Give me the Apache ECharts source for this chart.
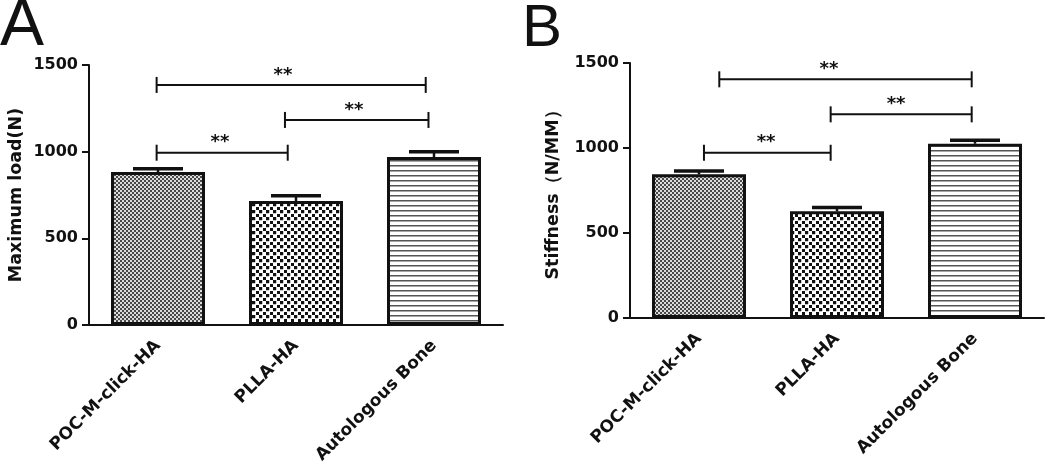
<!DOCTYPE html>
<html>
<head>
<meta charset="utf-8">
<script src="https://cdn.jsdelivr.net/npm/echarts@6/dist/echarts.min.js"></script>
<style>
html,body{margin:0;padding:0;background:#fff;}
#chart{width:1050px;height:469px;}
</style>
</head>
<body>
<div id="chart"></div>
<script>
// ---------- data ----------
const categories = ['POC-M-click-HA', 'PLLA-HA', 'Autologous Bone'];
const loadMeans = [882, 715, 969];
const loadErrs = [20, 31, 31];
const stiffMeans = [845, 628, 1025];
const stiffErrs = [20, 22, 20];
const yTicks = [0, 500, 1000, 1500];
// significance brackets: [fromX, toX, yValue, starX] (x in category units)
const loadBrackets = [[-0.01, 0.94, 994, 0.449], [0.92, 1.96, 1183, 1.42], [-0.01, 1.94, 1385, 0.906]];
const stiffBrackets = [[0.036, 0.954, 972, 0.486], [0.954, 1.976, 1198, 1.428], [0.147, 1.976, 1404, 0.942]];
const sigLabel = '**';
const yNameA = 'Maximum load(N)';
const yNameB = 'Stiffness（N/MM）';

// ---------- patterns ----------
function makeCanvas(w, h, draw) {
  const c = document.createElement('canvas');
  c.width = w; c.height = h;
  const ctx = c.getContext('2d');
  draw(ctx);
  return c;
}
const fineChecker = makeCanvas(4, 4, ctx => {
  ctx.fillStyle = '#dcdcdc'; ctx.fillRect(0, 0, 4, 4);
  ctx.fillStyle = '#4a4a4a'; ctx.fillRect(0, 0, 2, 2); ctx.fillRect(2, 2, 2, 2);
});
const coarseChecker = makeCanvas(7, 7, ctx => {
  ctx.fillStyle = '#ffffff'; ctx.fillRect(0, 0, 7, 7);
  ctx.fillStyle = '#111111'; ctx.fillRect(0, 0, 3, 3); ctx.fillRect(4, 4, 3, 3);
  ctx.fillStyle = '#888888'; ctx.fillRect(3, 0, 0.5, 3); ctx.fillRect(0, 3, 3, 0.5);
});
const stripes = makeCanvas(4, 5, ctx => {
  ctx.fillStyle = '#ffffff'; ctx.fillRect(0, 0, 4, 5);
  ctx.fillStyle = '#555555'; ctx.fillRect(0, 0, 4, 1);
  ctx.fillStyle = '#a8a8a8'; ctx.fillRect(0, 1, 4, 1);
});
const patterns = [fineChecker, coarseChecker, stripes];

const FONT = 'DejaVu Sans';
const INK = '#111';

function errRender(params, api) {
  const x = api.value(0), m = api.value(1), e = api.value(2);
  const p0 = api.coord([x, m]);
  const p1 = api.coord([x, m + e]);
  return {
    type: 'group',
    children: [
      { type: 'line', shape: { x1: p0[0], y1: p0[1], x2: p1[0], y2: p1[1] }, style: { stroke: INK, lineWidth: 2.5 } },
      { type: 'line', shape: { x1: p1[0] - 25, y1: p1[1], x2: p1[0] + 25, y2: p1[1] }, style: { stroke: INK, lineWidth: 3.5 } }
    ]
  };
}
function bracketRender(params, api) {
  const a = api.coord([api.value(0), api.value(2)]);
  const b = api.coord([api.value(1), api.value(2)]);
  const s = api.coord([api.value(3), api.value(2)]);
  return {
    type: 'group',
    children: [
      { type: 'line', shape: { x1: a[0], y1: a[1], x2: b[0], y2: b[1] }, style: { stroke: INK, lineWidth: 2 } },
      { type: 'line', shape: { x1: a[0], y1: a[1] - 8, x2: a[0], y2: a[1] + 8 }, style: { stroke: INK, lineWidth: 2 } },
      { type: 'line', shape: { x1: b[0], y1: b[1] - 8, x2: b[0], y2: b[1] + 8 }, style: { stroke: INK, lineWidth: 2 } },
      { type: 'text', x: s[0], y: s[1] - 10, style: { text: sigLabel, fill: INK, font: 'bold 18px "' + FONT + '"', align: 'center', verticalAlign: 'middle' } }
    ]
  };
}

function catAxis(gridIndex) {
  return {
    type: 'category', gridIndex: gridIndex, data: categories,
    axisLine: { onZero: false, lineStyle: { color: INK, width: 2 } },
    axisTick: { alignWithLabel: true, length: 7, lineStyle: { color: INK, width: 2 } },
    axisLabel: { rotate: 45, margin: 18, color: INK, fontFamily: FONT, fontWeight: 'bold', fontSize: 17 }
  };
}
function hiddenX(gridIndex) {
  return { type: 'value', gridIndex: gridIndex, min: -0.5, max: 2.5, show: false };
}
function valAxis(gridIndex, name, gap) {
  return {
    type: 'value', gridIndex: gridIndex, min: yTicks[0], max: yTicks[yTicks.length - 1], interval: yTicks[1] - yTicks[0],
    name: name, nameLocation: 'middle', nameGap: gap,
    nameTextStyle: { color: INK, fontFamily: FONT, fontWeight: 'bold', fontSize: 17.5 },
    axisLine: { show: true, onZero: false, lineStyle: { color: INK, width: 2 } },
    axisTick: { show: true, length: 7, lineStyle: { color: INK, width: 2 } },
    axisLabel: { margin: 11, color: INK, fontFamily: FONT, fontWeight: 'bold', fontSize: 16, formatter: v => String(v) },
    splitLine: { show: false }
  };
}
function barSeries(xi, yi, means) {
  return {
    type: 'bar', xAxisIndex: xi, yAxisIndex: yi, barWidth: 94,
    data: means.map((v, i) => ({ value: v, itemStyle: { color: { image: patterns[i], repeat: 'repeat' } } })),
    itemStyle: { borderColor: INK, borderWidth: 3 },
    z: 2
  };
}

const chart = echarts.init(document.getElementById('chart'), null, { renderer: 'canvas' });
chart.setOption({
  backgroundColor: '#fff',
  animation: false,
  grid: [
    { left: 89, top: 65, width: 414, height: 260 },
    { left: 630, top: 63, width: 414, height: 255 }
  ],
  xAxis: [catAxis(0), hiddenX(0), catAxis(1), hiddenX(1)],
  yAxis: [valAxis(0, yNameA, 64), valAxis(1, yNameB, 68)],
  graphic: [
    { type: 'text', x: 0, y: 27, style: { text: 'A', fill: INK, font: '66px "Liberation Sans"', align: 'left', verticalAlign: 'middle' } },
    { type: 'text', x: 522, y: 29, style: { text: 'B', fill: INK, font: '60px "Liberation Sans"', align: 'left', verticalAlign: 'middle' } }
  ],
  series: [
    barSeries(0, 0, loadMeans),
    { type: 'custom', xAxisIndex: 0, yAxisIndex: 0, renderItem: errRender, clip: false, z: 3,
      data: loadMeans.map((m, i) => [i, m, loadErrs[i]]) },
    { type: 'custom', xAxisIndex: 1, yAxisIndex: 0, renderItem: bracketRender, clip: false, z: 3,
      data: loadBrackets },
    barSeries(2, 1, stiffMeans),
    { type: 'custom', xAxisIndex: 2, yAxisIndex: 1, renderItem: errRender, clip: false, z: 3,
      data: stiffMeans.map((m, i) => [i, m, stiffErrs[i]]) },
    { type: 'custom', xAxisIndex: 3, yAxisIndex: 1, renderItem: bracketRender, clip: false, z: 3,
      data: stiffBrackets }
  ]
});
</script>
</body>
</html>
